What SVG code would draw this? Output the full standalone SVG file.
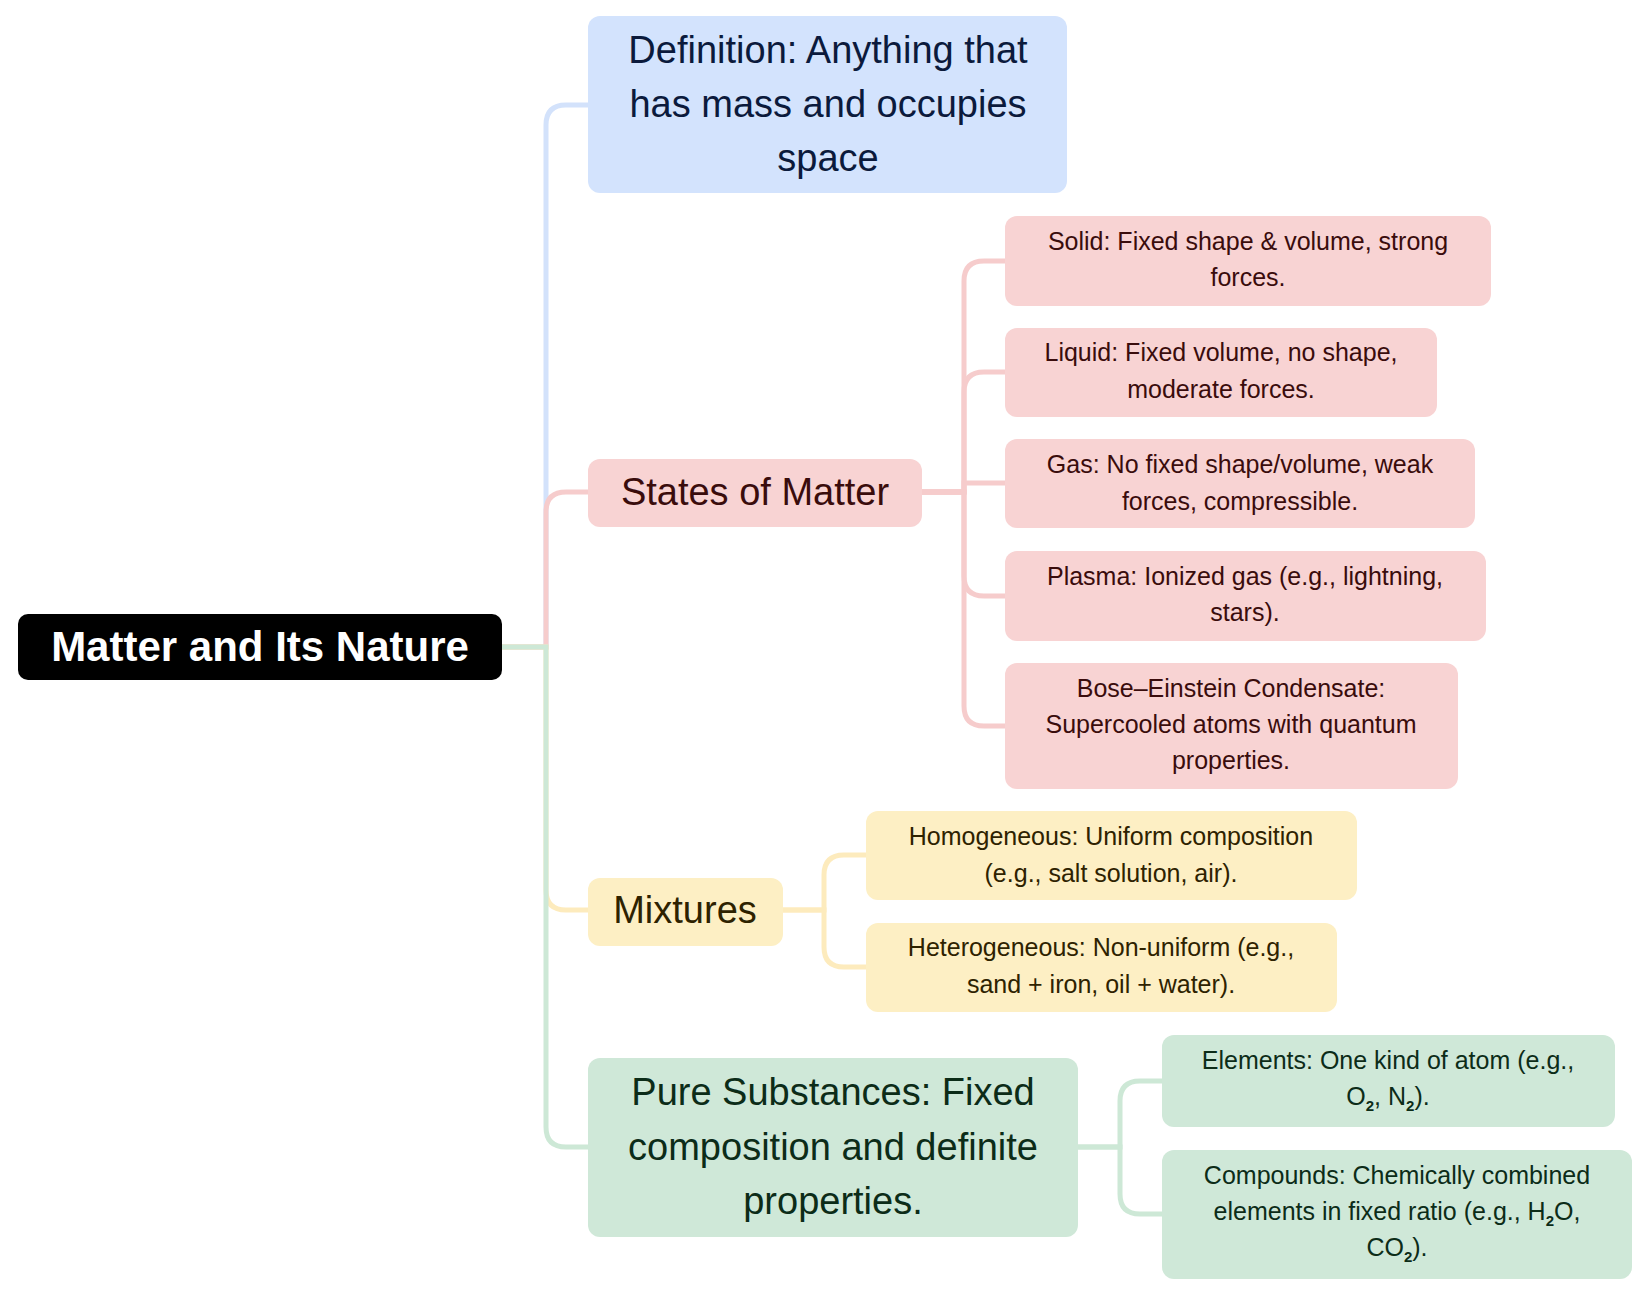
<svg xmlns="http://www.w3.org/2000/svg" width="1642" height="1290" viewBox="0 0 1642 1290">
<style>
text{font-family:"Liberation Sans",Arial,sans-serif;text-anchor:middle}
.c{fill:none;stroke-width:5;stroke-linecap:round}
.b{stroke:#d3e2fb}.r{stroke:#f6cccc}.y{stroke:#fdebbd}.g{stroke:#cde8d6}
.s{font-size:25px}.m{font-size:38px}
.sub{font-size:15px;font-weight:bold}
</style>
<rect width="1642" height="1290" fill="#fff"/>
<g id="connectors">
<path class="c b" d="M502 647 H546 V125 Q546 105 566 105 H588"/>
<path class="c r" d="M502 647 H546 V512 Q546 492 566 492 H588"/>
<path class="c y" d="M502 647 H546 V890 Q546 910 566 910 H588"/>
<path class="c g" d="M502 647 H546 V1127 Q546 1147 566 1147 H588"/>
<path class="c r" d="M922 492 H964 V281 Q964 261 984 261 H1005"/>
<path class="c r" d="M922 492 H964 V392 Q964 372 984 372 H1005"/>
<path class="c r" d="M922 492 H964 V483 H1005"/>
<path class="c r" d="M922 492 H964 V576 Q964 596 984 596 H1005"/>
<path class="c r" d="M922 492 H964 V706 Q964 726 984 726 H1005"/>
<path class="c y" d="M783 910 H824 V875 Q824 855 844 855 H866"/>
<path class="c y" d="M783 910 H824 V947 Q824 967 844 967 H866"/>
<path class="c g" d="M1078 1147 H1120 V1101 Q1120 1081 1140 1081 H1162"/>
<path class="c g" d="M1078 1147 H1120 V1194 Q1120 1214 1140 1214 H1162"/>
</g>
<g id="root"><rect x="18" y="614" width="484" height="66" rx="10" fill="#000"/><text x="260" y="661" font-size="42" font-weight="bold" fill="#fff">Matter and Its Nature</text></g>
<g id="definition" fill="#0b1a3c"><rect x="588" y="16" width="479" height="177" rx="12" fill="#d3e3fd"/><text class="m" x="828" y="63">Definition: Anything that</text><text class="m" x="828" y="117">has mass and occupies</text><text class="m" x="828" y="171">space</text></g>
<g id="states" fill="#3a0c0c"><rect x="588" y="459" width="334" height="68" rx="12" fill="#f8d3d3"/><text class="m" x="755" y="505">States of Matter</text></g>
<g id="mixtures" fill="#2e2200"><rect x="588" y="878" width="195" height="68" rx="12" fill="#fdefc4"/><text class="m" x="685" y="923">Mixtures</text></g>
<g id="pure" fill="#0c2c18"><rect x="588" y="1058" width="490" height="179" rx="12" fill="#cfe8d8"/><text class="m" x="833" y="1105">Pure Substances: Fixed</text><text class="m" x="833" y="1160">composition and definite</text><text class="m" x="833" y="1214">properties.</text></g>
<g id="solid" fill="#3a0c0c"><rect x="1005" y="216" width="486" height="90" rx="12" fill="#f8d3d3"/><text class="s" x="1248" y="250">Solid: Fixed shape &amp; volume, strong</text><text class="s" x="1248" y="286">forces.</text></g>
<g id="liquid" fill="#3a0c0c"><rect x="1005" y="328" width="432" height="89" rx="12" fill="#f8d3d3"/><text class="s" x="1221" y="361">Liquid: Fixed volume, no shape,</text><text class="s" x="1221" y="398">moderate forces.</text></g>
<g id="gas" fill="#3a0c0c"><rect x="1005" y="439" width="470" height="89" rx="12" fill="#f8d3d3"/><text class="s" x="1240" y="473">Gas: No fixed shape/volume, weak</text><text class="s" x="1240" y="510">forces, compressible.</text></g>
<g id="plasma" fill="#3a0c0c"><rect x="1005" y="551" width="481" height="90" rx="12" fill="#f8d3d3"/><text class="s" x="1245" y="585">Plasma: Ionized gas (e.g., lightning,</text><text class="s" x="1245" y="621">stars).</text></g>
<g id="bec" fill="#3a0c0c"><rect x="1005" y="663" width="453" height="126" rx="12" fill="#f8d3d3"/><text class="s" x="1231" y="697">Bose–Einstein Condensate:</text><text class="s" x="1231" y="733">Supercooled atoms with quantum</text><text class="s" x="1231" y="769">properties.</text></g>
<g id="homogeneous" fill="#2e2200"><rect x="866" y="811" width="491" height="89" rx="12" fill="#fdefc4"/><text class="s" x="1111" y="845">Homogeneous: Uniform composition</text><text class="s" x="1111" y="882">(e.g., salt solution, air).</text></g>
<g id="heterogeneous" fill="#2e2200"><rect x="866" y="923" width="471" height="89" rx="12" fill="#fdefc4"/><text class="s" x="1101" y="956">Heterogeneous: Non-uniform (e.g.,</text><text class="s" x="1101" y="993">sand + iron, oil + water).</text></g>
<g id="elements" fill="#0c2c18"><rect x="1162" y="1035" width="453" height="92" rx="12" fill="#cfe8d8"/><text class="s" x="1388" y="1069">Elements: One kind of atom (e.g.,</text><text class="s" x="1388" y="1105">O<tspan class="sub" dy="6">2</tspan><tspan dy="-6">, N</tspan><tspan class="sub" dy="6">2</tspan><tspan dy="-6">).</tspan></text></g>
<g id="compounds" fill="#0c2c18"><rect x="1162" y="1150" width="470" height="129" rx="12" fill="#cfe8d8"/><text class="s" x="1397" y="1184">Compounds: Chemically combined</text><text class="s" x="1397" y="1220">elements in fixed ratio (e.g., H<tspan class="sub" dy="6">2</tspan><tspan dy="-6">O,</tspan></text><text class="s" x="1397" y="1256">CO<tspan class="sub" dy="6">2</tspan><tspan dy="-6">).</tspan></text></g>
</svg>
